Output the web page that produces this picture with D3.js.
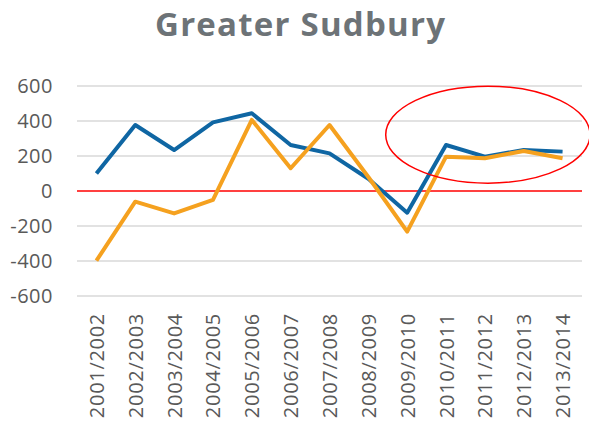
<!DOCTYPE html>
<html>
<head>
<meta charset="utf-8">
<script src="https://cdn.jsdelivr.net/npm/d3@7"></script>
<style>
  body { margin: 0; background: #fff; }
  svg text { font-family: "Open Sans", "Liberation Sans", sans-serif; }
</style>
</head>
<body>
<div id="chart"></div>
<script>
var years = ["2001/2002", "2002/2003", "2003/2004", "2004/2005", "2005/2006", "2006/2007",
    "2007/2008", "2008/2009", "2009/2010", "2010/2011", "2011/2012", "2012/2013", "2013/2014"];
var blueSeries = [100, 377, 234, 392, 444, 263, 215, 70, -124, 263, 196, 234, 225];
var orangeSeries = [-398, -61, -128, -51, 406, 130, 377, 80, -232, 196, 187, 229, 187];
var yTicks = [-600, -400, -200, 0, 200, 400, 600];
var chartTitle = "Greater Sudbury";

function init() {
    var margin = { top: 86, right: 7, bottom: 125, left: 77 },
        width = 589 - margin.left - margin.right,
        height = 421 - margin.top - margin.bottom;

    var svg = d3.select("#chart")
        .append("svg")
        .attr("width", 589)
        .attr("height", 421);

    svg.append("text")
        .attr("x", 300)
        .attr("y", 36)
        .attr("text-anchor", "middle")
        .attr("textLength", 290)
        .attr("lengthAdjust", "spacing")
        .style("font-size", "33px")
        .style("font-weight", "bold")
        .style("fill", "#6d7377")
        .text(chartTitle);

    var g = svg.append("g")
        .attr("transform", "translate(" + margin.left + "," + margin.top + ")");

    var x = d3.scalePoint()
        .domain(years)
        .range([0, width])
        .padding(0.5);

    var y = d3.scaleLinear()
        .domain([-600, 600])
        .range([height, 0]);

    // gridlines
    g.selectAll(".grid")
        .data(yTicks.filter(d => d !== 0))
        .enter()
        .append("line")
        .attr("x1", 0)
        .attr("x2", width)
        .attr("y1", d => y(d))
        .attr("y2", d => y(d))
        .style("stroke", "#d9d9d9")
        .style("stroke-width", 1.5);

    // y labels (plain hyphen like the original)
    var yAxis = g.append("g")
        .call(d3.axisLeft(y).tickValues(yTicks).tickSize(0).tickPadding(24)
            .tickFormat(d => String(d)));
    yAxis.select(".domain").remove();
    yAxis.selectAll("text")
        .style("font-size", "20px")
        .style("letter-spacing", "0.5px")
        .style("fill", "#595959");

    // x labels
    var xAxis = g.append("g")
        .attr("transform", "translate(0," + height + ")")
        .call(d3.axisBottom(x).tickSize(0));
    xAxis.select(".domain").remove();
    xAxis.selectAll("text")
        .attr("transform", "rotate(-90)")
        .attr("text-anchor", "end")
        .attr("x", -17)
        .attr("y", 0)
        .attr("dy", "0.35em")
        .style("font-size", "20px")
        .style("letter-spacing", "0.7px")
        .style("fill", "#595959");

    // zero line
    g.append("line")
        .attr("x1", 0)
        .attr("x2", width)
        .attr("y1", y(0))
        .attr("y2", y(0))
        .style("stroke", "#ff0000")
        .style("stroke-width", 1.5);

    var line = d3.line()
        .x((d, i) => x(years[i]))
        .y(d => y(d));

    g.append("path")
        .datum(blueSeries)
        .attr("d", line)
        .style("fill", "none")
        .style("stroke", "#0f66a3")
        .style("stroke-width", 4)
        .style("stroke-linejoin", "round");

    g.append("path")
        .datum(orangeSeries)
        .attr("d", line)
        .style("fill", "none")
        .style("stroke", "#f5a11f")
        .style("stroke-width", 4)
        .style("stroke-linejoin", "round");

    // highlight ellipse
    g.append("ellipse")
        .attr("cx", x("2011/2012") + 3)
        .attr("cy", y(322))
        .attr("rx", x.step() * 2.63)
        .attr("ry", y(0) - y(277))
        .style("fill", "none")
        .style("stroke", "#ff0000")
        .style("stroke-width", 1.5);
}

window.onload = init;
</script>
</body>
</html>
